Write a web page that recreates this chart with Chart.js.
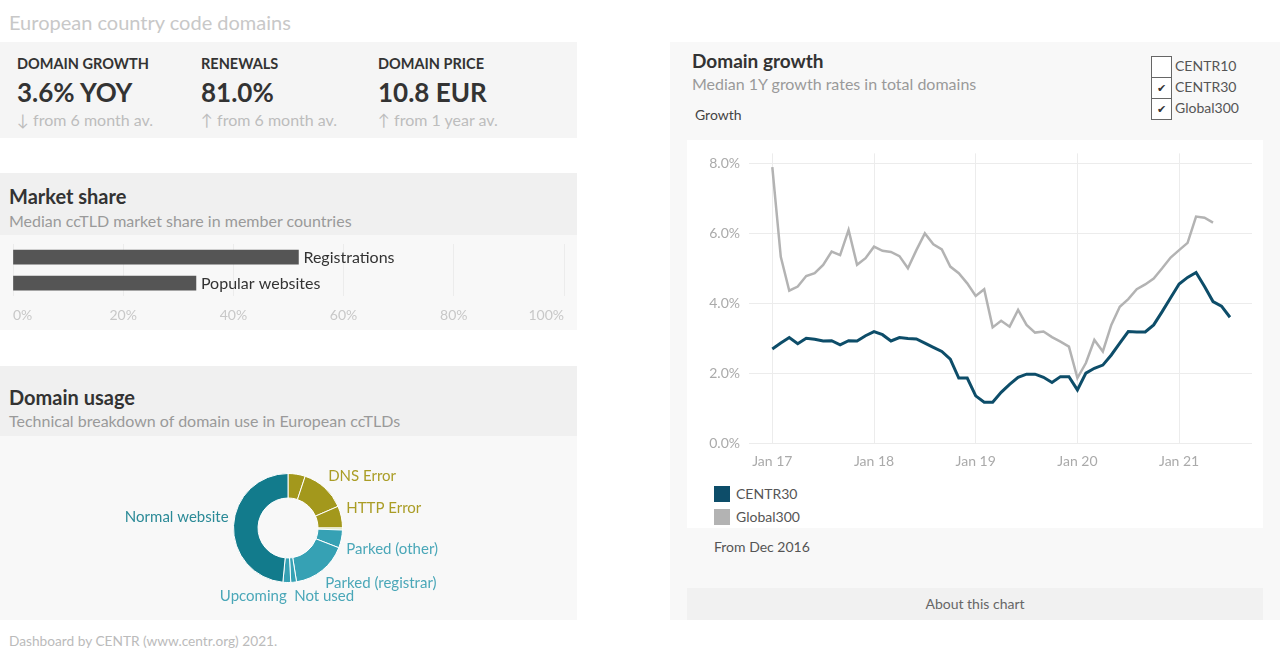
<!DOCTYPE html>
<html>
<head>
<meta charset="utf-8">
<title>European country code domains</title>
<script src="https://cdn.jsdelivr.net/npm/chart.js@4.4.0/dist/chart.umd.min.js"></script>
<style>
body { margin: 0; width: 1280px; height: 662px; position: relative; overflow: hidden; background: #fff; font-family: Lato, "Noto Sans", sans-serif; color: #333; }
.box { position: absolute; }
.txt { position: absolute; white-space: nowrap; }
.kpi-h { font-size: 14.5px; font-weight: 700; line-height: 16px; color: #333; }
.kpi-v { font-size: 26px; font-weight: 700; line-height: 28px; color: #333; }
.kpi-s { font-size: 16px; line-height: 16px; color: #bdbdbd; }
.head { font-size: 20px; font-weight: 700; line-height: 22px; color: #333; }
.sub { font-size: 16px; line-height: 18px; color: #9a9a9a; }
.chk { position: absolute; left: 1151px; width: 19px; height: 20px; border: 1px solid #666; background: #fff; font-size: 11px; line-height: 20px; text-align: center; color: #333; }
.chk-l { position: absolute; left: 1175px; font-size: 14px; line-height: 16px; color: #555; }
.sq { position: absolute; left: 714px; width: 16px; height: 16px; }
canvas { position: absolute; }
</style>
</head>
<body>

<div class="txt" style="left:9px;top:11px;font-size:20px;line-height:22px;color:#c8c8c8;">European country code domains</div>

<div class="box" style="left:0;top:42px;width:577px;height:96px;background:#f5f5f5;"></div>
<div class="txt kpi-h" style="left:17px;top:56px;">DOMAIN GROWTH</div>
<div class="txt kpi-v" style="left:17px;top:78px;">3.6% YOY</div>
<div class="txt kpi-s" style="left:17px;top:112px;">↓ from 6 month av.</div>
<div class="txt kpi-h" style="left:201px;top:56px;">RENEWALS</div>
<div class="txt kpi-v" style="left:201px;top:78px;">81.0%</div>
<div class="txt kpi-s" style="left:201px;top:112px;">↑ from 6 month av.</div>
<div class="txt kpi-h" style="left:378px;top:56px;">DOMAIN PRICE</div>
<div class="txt kpi-v" style="left:378px;top:78px;">10.8 EUR</div>
<div class="txt kpi-s" style="left:378px;top:112px;">↑ from 1 year av.</div>

<div class="box" style="left:0;top:173px;width:577px;height:62px;background:#f0f0f0;"></div>
<div class="box" style="left:0;top:235px;width:577px;height:95px;background:#f8f8f8;"></div>
<div class="txt head" style="left:9px;top:185px;">Market share</div>
<div class="txt sub" style="left:9px;top:212px;">Median ccTLD market share in member countries</div>
<canvas id="shareChart" style="left:0;top:238px;" width="577" height="100"></canvas>

<div class="box" style="left:0;top:366px;width:577px;height:70px;background:#f0f0f0;"></div>
<div class="box" style="left:0;top:436px;width:577px;height:184px;background:#f8f8f8;"></div>
<div class="txt head" style="left:9px;top:386px;">Domain usage</div>
<div class="txt sub" style="left:9px;top:412px;">Technical breakdown of domain use in European ccTLDs</div>
<canvas id="usageChart" style="left:100px;top:436px;" width="376" height="184"></canvas>

<div class="txt" style="left:9px;top:633px;font-size:13.7px;line-height:15px;color:#bbb;">Dashboard by CENTR (www.centr.org) 2021.</div>

<div class="box" style="left:670px;top:42px;width:610px;height:578px;background:#f8f8f8;"></div>
<div class="txt head" style="left:692px;top:50px;font-size:19px;">Domain growth</div>
<div class="txt sub" style="left:692px;top:75px;">Median 1Y growth rates in total domains</div>
<div class="txt" style="left:695px;top:107px;font-size:14px;line-height:16px;color:#444;">Growth</div>

<div class="chk" style="top:56px;"></div>
<div class="chk" style="top:77px;">✔</div>
<div class="chk" style="top:98px;">✔</div>
<div class="chk-l" style="top:58px;">CENTR10</div>
<div class="chk-l" style="top:79px;">CENTR30</div>
<div class="chk-l" style="top:100px;">Global300</div>

<div class="box" style="left:687px;top:140px;width:576px;height:388px;background:#fff;"></div>
<canvas id="growthChart" style="left:687px;top:136px;" width="576" height="344"></canvas>
<div class="sq" style="top:486px;background:#0d4d69;"></div>
<div class="txt" style="left:736px;top:486px;font-size:14px;line-height:16px;color:#555;">CENTR30</div>
<div class="sq" style="top:509px;background:#b3b3b3;"></div>
<div class="txt" style="left:736px;top:509px;font-size:14px;line-height:16px;color:#555;">Global300</div>

<div class="txt" style="left:714px;top:539px;font-size:14px;line-height:16px;color:#555;">From Dec 2016</div>
<div class="box" style="left:687px;top:588px;width:576px;height:32px;background:#f1f1f1;"></div>
<div class="txt" style="left:687px;top:596px;width:576px;text-align:center;font-size:14px;line-height:16px;color:#666;">About this chart</div>

<script>
'use strict';

// market share (%)
var shareLabels = ['Registrations', 'Popular websites'];
var shareValues = [51.8, 33.2];
var shareTicks = [0, 20, 40, 60, 80, 100];

// domain usage (%), clockwise from the top
var usageLabels = ['Other error', 'DNS Error', 'HTTP Error', 'Other', 'Parked (other)', 'Parked (registrar)', 'Not used', 'Upcoming', 'Normal website'];
var usageValues = [5.1, 13.4, 6.5, 0.6, 5.3, 16.6, 1.7, 2.3, 48.5];
var usageColors = ['#a3981c', '#a3981c', '#a3981c', '#c9d79b', '#36a1b4', '#36a1b4', '#36a1b4', '#36a1b4', '#127b8c'];
var usageTextColors = ['', '#aa9d26', '#aa9d26', '', '#4aa7b8', '#4aa7b8', '#4aa7b8', '#4aa7b8', '#2b8a97'];

// domain growth, monthly, Jan 2017 - Jul 2021
var months = [
	'2017-01', '2017-02', '2017-03', '2017-04', '2017-05', '2017-06', '2017-07', '2017-08', '2017-09', '2017-10', '2017-11', '2017-12',
	'2018-01', '2018-02', '2018-03', '2018-04', '2018-05', '2018-06', '2018-07', '2018-08', '2018-09', '2018-10', '2018-11', '2018-12',
	'2019-01', '2019-02', '2019-03', '2019-04', '2019-05', '2019-06', '2019-07', '2019-08', '2019-09', '2019-10', '2019-11', '2019-12',
	'2020-01', '2020-02', '2020-03', '2020-04', '2020-05', '2020-06', '2020-07', '2020-08', '2020-09', '2020-10', '2020-11', '2020-12',
	'2021-01', '2021-02', '2021-03', '2021-04', '2021-05', '2021-06', '2021-07'
];
var centr30 = [
	2.69, 2.86, 3.02, 2.84, 3.00, 2.97, 2.92, 2.93, 2.81, 2.93, 2.92, 3.07,
	3.19, 3.10, 2.92, 3.02, 2.99, 2.98, 2.86, 2.74, 2.62, 2.40, 1.86, 1.86,
	1.35, 1.17, 1.17, 1.45, 1.68, 1.88, 1.97, 1.97, 1.88, 1.73, 1.90, 1.90,
	1.52, 2.00, 2.14, 2.23, 2.52, 2.86, 3.19, 3.18, 3.18, 3.38, 3.76, 4.16,
	4.55, 4.74, 4.88, 4.48, 4.05, 3.92, 3.60
];
var global300 = [
	7.90, 5.33, 4.36, 4.48, 4.78, 4.86, 5.10, 5.48, 5.38, 6.10, 5.10, 5.29,
	5.62, 5.50, 5.47, 5.35, 5.00, 5.52, 6.00, 5.69, 5.54, 5.05, 4.86, 4.57,
	4.21, 4.40, 3.31, 3.50, 3.33, 3.81, 3.38, 3.16, 3.19, 3.03, 2.90, 2.76,
	1.86, 2.29, 2.95, 2.62, 3.38, 3.90, 4.12, 4.40, 4.54, 4.71, 5.00, 5.31,
	5.52, 5.73, 6.48, 6.45, 6.31, null, null
];
var yearTicks = ['Jan 17', 'Jan 18', 'Jan 19', 'Jan 20', 'Jan 21'];
var growthTicks = [0, 2, 4, 6, 8];

var FONT = 'Lato, "Noto Sans", sans-serif';
Chart.defaults.font.family = FONT;
Chart.defaults.animation = false;

function toPoints(values) {
	var pts = [];
	for (var i = 0; i < months.length; i++) {
		pts.push({ x: i, y: values[i] });
	}
	return pts;
}

// text next to each bar end
var barLabelPlugin = {
	id: 'barLabels',
	afterDatasetsDraw: function(chart) {
		var ctx = chart.ctx;
		var meta = chart.getDatasetMeta(0);
		ctx.save();
		ctx.font = '16px ' + FONT;
		ctx.fillStyle = '#333';
		ctx.textBaseline = 'middle';
		ctx.textAlign = 'left';
		meta.data.forEach(function(bar, i) {
			ctx.fillText(shareLabels[i], bar.x + 5, bar.y + 1);
		});
		ctx.restore();
	}
};

// labels round the donut
var arcLabelPlugin = {
	id: 'arcLabels',
	afterDatasetsDraw: function(chart) {
		var ctx = chart.ctx;
		var meta = chart.getDatasetMeta(0);
		ctx.save();
		ctx.font = '15px ' + FONT;
		ctx.textBaseline = 'middle';
		meta.data.forEach(function(arc, i) {
			if (!usageTextColors[i]) return;
			var a = (arc.startAngle + arc.endAngle) / 2;
			var r = arc.outerRadius + 5;
			var x = arc.x + Math.cos(a) * r;
			var y = arc.y + Math.sin(a) * r;
			y += Math.sin(a) < 0 ? -8 : 9;
			ctx.textAlign = Math.cos(a) < -0.01 ? 'right' : 'left';
			ctx.fillStyle = usageTextColors[i];
			ctx.fillText(usageLabels[i], x, y);
		});
		ctx.restore();
	}
};

function drawShare() {
	var ctx = document.getElementById('shareChart').getContext('2d');
	new Chart(ctx, {
		type: 'bar',
		data: {
			labels: shareLabels,
			datasets: [{
				data: shareValues,
				backgroundColor: '#555555',
				barThickness: 14
			}]
		},
		options: {
			indexAxis: 'y',
			responsive: false,
			layout: { padding: { left: 13, right: 13, top: 6, bottom: 3 } },
			plugins: { legend: { display: false }, tooltip: { enabled: false } },
			scales: {
				x: {
					min: 0,
					max: 100,
					afterBuildTicks: function(scale) {
						scale.ticks = shareTicks.map(function(v) { return { value: v }; });
					},
					ticks: {
						color: '#c8c8c8',
						font: { size: 14 },
						padding: 11,
						align: 'inner',
						callback: function(v) { return v + '%'; }
					},
					grid: { color: '#ececec', drawTicks: false },
					border: { display: false }
				},
				y: { display: false }
			}
		},
		plugins: [barLabelPlugin]
	});
}

function drawUsage() {
	var ctx = document.getElementById('usageChart').getContext('2d');
	new Chart(ctx, {
		type: 'doughnut',
		data: {
			labels: usageLabels,
			datasets: [{
				data: usageValues,
				backgroundColor: usageColors,
				borderColor: '#ffffff',
				borderWidth: 1
			}]
		},
		options: {
			responsive: false,
			cutout: '55%',
			layout: { padding: { left: 133, right: 133, top: 37, bottom: 37 } },
			plugins: { legend: { display: false }, tooltip: { enabled: false } }
		},
		plugins: [arcLabelPlugin]
	});
}

function drawGrowth() {
	var ctx = document.getElementById('growthChart').getContext('2d');
	new Chart(ctx, {
		type: 'line',
		data: {
			datasets: [{
				label: 'CENTR30',
				data: toPoints(centr30),
				borderColor: '#0d4d69',
				backgroundColor: '#0d4d69',
				borderWidth: 3,
				pointRadius: 0,
				fill: false
			}, {
				label: 'Global300',
				data: toPoints(global300),
				borderColor: '#b3b3b3',
				backgroundColor: '#b3b3b3',
				borderWidth: 2.5,
				pointRadius: 0,
				fill: false
			}]
		},
		options: {
			responsive: false,
			layout: { padding: { top: 9, right: 11 } },
			plugins: { legend: { display: false }, tooltip: { enabled: false } },
			scales: {
				x: {
					type: 'linear',
					min: -2.75,
					max: 56.6,
					afterBuildTicks: function(scale) {
						scale.ticks = yearTicks.map(function(t, i) { return { value: i * 12 }; });
					},
					afterFit: function(scale) { scale.height = 37; },
					ticks: {
						color: '#aaaaaa',
						font: { size: 14 },
						padding: 10,
						maxRotation: 0,
						callback: function(v) { return yearTicks[v / 12]; }
					},
					grid: { color: '#ececec', drawTicks: false },
					border: { display: false }
				},
				y: {
					min: 0,
					max: 8.29,
					afterBuildTicks: function(scale) {
						scale.ticks = growthTicks.map(function(v) { return { value: v }; });
					},
					afterFit: function(scale) { scale.width = 62; },
					ticks: {
						color: '#aaaaaa',
						font: { size: 14 },
						padding: 9,
						callback: function(v) { return v.toFixed(1) + '%'; }
					},
					grid: { color: '#ececec', drawTicks: false },
					border: { display: false }
				}
			}
		}
	});
}

drawShare();
drawUsage();
drawGrowth();
</script>
</body>
</html>
